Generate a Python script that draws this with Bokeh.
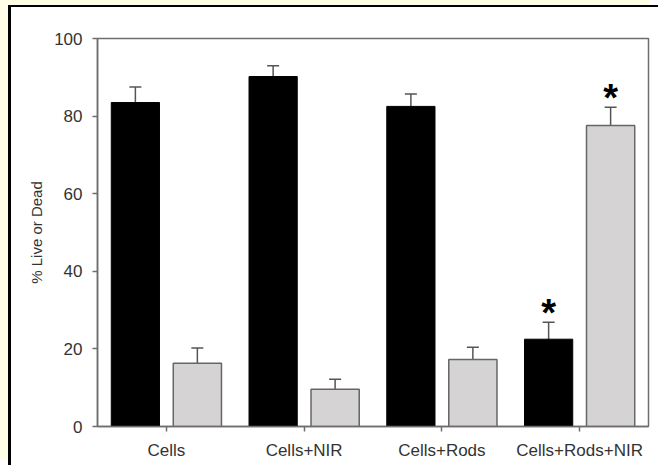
from bokeh.plotting import figure
from bokeh.models import ColumnDataSource, FactorRange, Whisker, TeeHead
from bokeh.transform import dodge
from bokeh.core.properties import value
from bokeh.embed import file_html
from bokeh.resources import INLINE

categories = ["Cells", "Cells+NIR", "Cells+Rods", "Cells+Rods+NIR"]
live = [83.5, 90.2, 82.5, 22.5]
live_err = [4.0, 2.8, 3.2, 4.4]
dead = [16.3, 9.6, 17.3, 77.6]
dead_err = [3.9, 2.6, 3.1, 4.7]
significant_live = [False, False, False, True]
significant_dead = [False, False, False, True]
y_ticks = [0, 20, 40, 60, 80, 100]

src = ColumnDataSource(dict(
    cat=categories, live=live, dead=dead,
    live_up=[v + e for v, e in zip(live, live_err)],
    live_lo=[v - e for v, e in zip(live, live_err)],
    dead_up=[v + e for v, e in zip(dead, dead_err)],
    dead_lo=[v - e for v, e in zip(dead, dead_err)],
))

p = figure(x_range=FactorRange(factors=categories, range_padding=0), y_range=(0, 100),
           width=650, height=460, output_backend="svg", toolbar_location=None,
           min_border_left=86, min_border_right=13, min_border_top=31, min_border_bottom=41)
p.styles = {"margin-left": "11px", "margin-top": "7px", "overflow": "hidden",
            "box-shadow": "-3px -2px 0 0 black, -11px -7px 0 0 #fffde6"}
p.background_fill_color = "white"
p.border_fill_color = None
p.xgrid.visible = False
p.ygrid.visible = False
p.outline_line_color = "#6e6e6e"
p.outline_line_width = 1.5

off = 0.225
w = 0.35
p.vbar(x=dodge("cat", -off, range=p.x_range), top="live", width=w, source=src,
       fill_color="black", line_color="black", line_width=1)
p.vbar(x=dodge("cat", off, range=p.x_range), top="dead", width=w, source=src,
       fill_color="#d5d3d3", line_color="#666666", line_width=1.5)

for col, d in (("live", -off), ("dead", off)):
    wk = Whisker(base=dodge("cat", d, range=p.x_range), upper=col + "_up", lower=col + "_lo",
                 source=src, line_color="#555555", line_width=1.5)
    wk.upper_head = TeeHead(size=12, line_color="#555555", line_width=1.5)
    wk.lower_head = TeeHead(size=12, line_color="#555555", line_width=1.5)
    p.add_layout(wk)

for col, d, sig in (("live", -off, significant_live), ("dead", off, significant_dead)):
    sub = ColumnDataSource(dict(
        cat=[c for c, s in zip(categories, sig) if s],
        y=[u for u, s in zip(src.data[col + "_up"], sig) if s]))
    p.text(x=dodge("cat", d, range=p.x_range), y="y", text=value("*"), source=sub,
           text_font=value("Liberation Sans"), text_font_size="38px", text_font_style="bold",
           text_align="center", text_baseline="middle", text_color="black", y_offset=-9)

for ax in (p.xaxis[0], p.yaxis[0]):
    ax.axis_line_color = "#6e6e6e"
    ax.axis_line_width = 1.5
    ax.major_tick_line_color = "#6e6e6e"
    ax.major_tick_line_width = 1.5
    ax.major_tick_in = 0
    ax.major_tick_out = 5
    ax.minor_tick_line_color = None
    ax.major_label_text_font = "Liberation Sans"
    ax.major_label_text_font_size = "17px"
    ax.major_label_text_color = "#333333"

p.yaxis.ticker = y_ticks
p.yaxis.major_label_standoff = 10
p.yaxis.axis_label = "% Live or Dead"
p.yaxis.axis_label_text_font = "Liberation Sans"
p.yaxis.axis_label_text_font_size = "15px"
p.yaxis.axis_label_text_font_style = "normal"
p.yaxis.axis_label_text_color = "#333333"
p.yaxis.axis_label_standoff = 6
p.xaxis.major_label_standoff = 9

open("out.html", "w").write(file_html(p, INLINE))
